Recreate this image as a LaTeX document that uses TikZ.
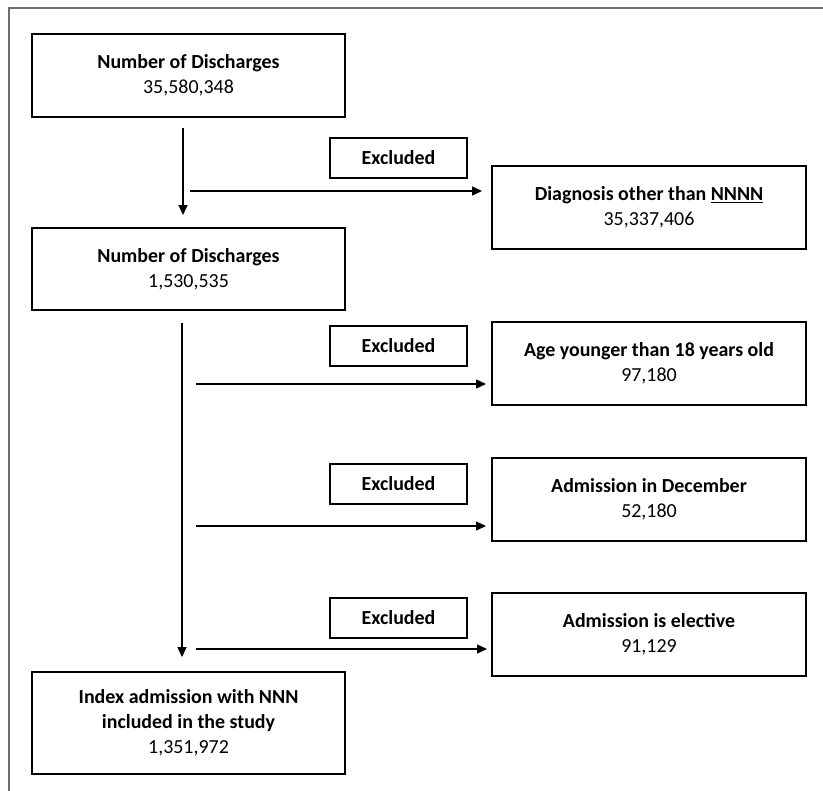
\documentclass[tikz,border=0pt]{standalone}
\usepackage{fontspec}
\setmainfont{Carlito}
\usetikzlibrary{arrows.meta, positioning}

\begin{document}
\begin{tikzpicture}[x=1bp, y=-1bp,
		block/.style={rectangle, draw=black, line width=1.5bp, minimum width=313bp, minimum height=83bp, inner sep=0pt, outer sep=0pt, align=center, font=\fontsize{20}{25}\selectfont},
		exbox/.style={rectangle, draw=black, line width=1.2bp, minimum width=137bp, minimum height=40bp, inner sep=0pt, outer sep=0pt, font=\fontsize{20}{25}\selectfont\bfseries},
		arrow/.style={-{Triangle[length=10bp, width=9bp]}, line width=1.4bp}
		]
		\useasboundingbox (0,0) rectangle (823,791);
		\draw[gray!85!black, line width=1.3bp] (9,791) -- (9,8) -- (823,8);
		
		% Main chain
		\node[block] (total) at (188.5,75.5) {\textbf{Number of Discharges} \\ 35,580,348};
		\node[block, minimum height=82bp, below=111bp of total] (primary) {\textbf{Number of Discharges} \\ 1,530,535};
		\node[block, minimum height=102bp, below=362bp of primary] (cohort) {\textbf{Index admission with NNN} \\ \textbf{included in the study} \\ 1,351,972};
		
		% Exclusion boxes
		\node[block, minimum width=314bp, below right=49bp and 147bp of total] (diagnosis) {\textbf{Diagnosis other than \underline{NNNN}} \\ 35,337,406};
		\node[block, minimum width=314bp, below=73bp of diagnosis] (age) {\textbf{Age younger than 18 years old} \\ 97,180};
		\node[block, minimum width=314bp, below=53bp of age] (december) {\textbf{Admission in December} \\ 52,180};
		\node[block, minimum width=314bp, below=52bp of december] (elective) {\textbf{Admission is elective} \\ 91,129};
		
		% Excluded labels
		\node[exbox] (exdiag) at (398.5,158) {Excluded};
		\node[exbox] (exage) at (398.5,346) {Excluded};
		\node[exbox] (exdec) at (398.5,484) {Excluded};
		\node[exbox] (exelect) at (398.5,618) {Excluded};
		
		% Main arrows
		\draw[arrow, shorten <=11bp, shorten >=13bp] ([xshift=-5.5bp]total.south) -- ([xshift=-5.5bp]primary.north);
		\draw[arrow, shorten <=13bp, shorten >=15bp] ([xshift=-6.5bp]primary.south) -- ([xshift=-6.5bp]cohort.north);
		
		% Exclusion arrows
		\coordinate (cut1) at (190,191);
		\coordinate (cut2) at (196,384);
		\coordinate (cut3) at (196,526);
		\coordinate (cut4) at (196,649);
		\draw[arrow, shorten >=10bp] (cut1) -- (cut1 -| diagnosis.west);
		\draw[arrow, shorten >=6bp] (cut2) -- (cut2 -| age.west);
		\draw[arrow, shorten >=6bp] (cut3) -- (cut3 -| december.west);
		\draw[arrow, shorten >=5bp] (cut4) -- (cut4 -| elective.west);
		
	\end{tikzpicture}
\end{document}
